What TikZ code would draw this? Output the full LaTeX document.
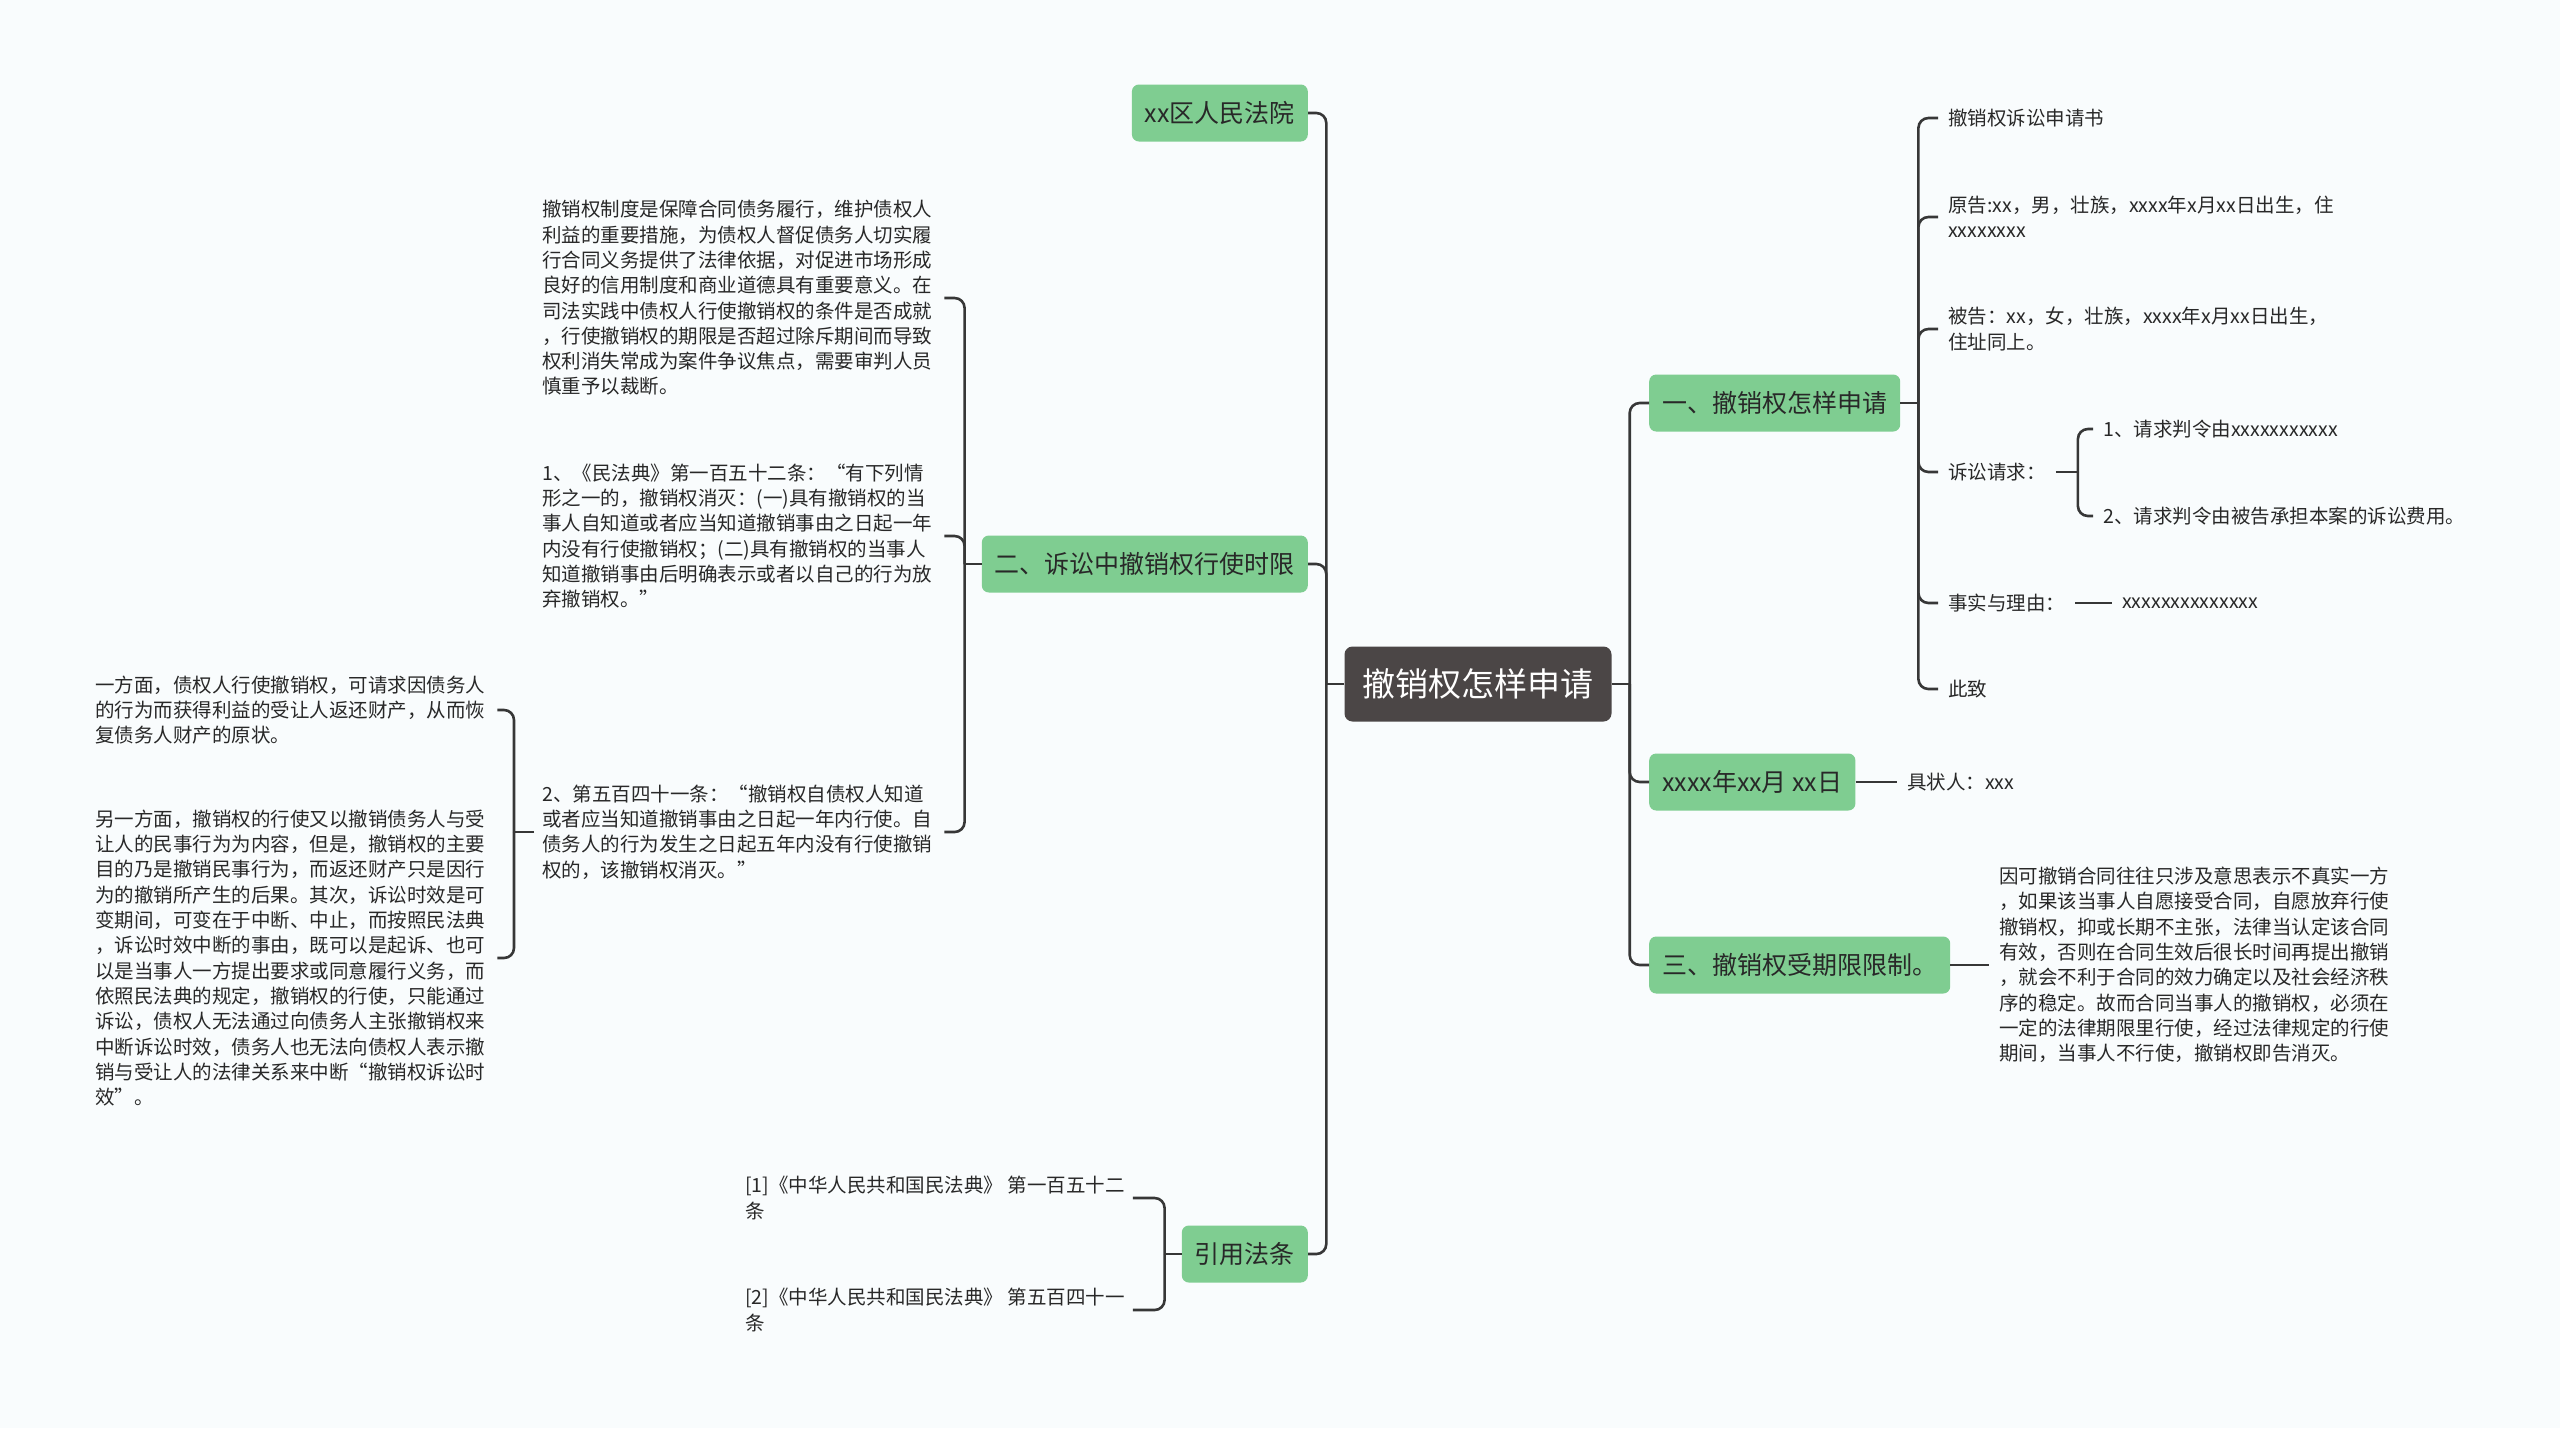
\documentclass[tikz,border=0pt]{standalone}
\usepackage{fontspec}
\setmainfont{Noto Sans CJK SC}
\definecolor{paperbg}{RGB}{249,252,253}
\definecolor{rootgray}{RGB}{75,70,70}
\definecolor{topicgreen}{RGB}{127,205,145}
\definecolor{inkdark}{RGB}{40,40,40}
\definecolor{wiregray}{RGB}{55,55,55}
\tikzset{
  root/.style={fill=rootgray,text=white,rounded corners=8pt,
               font=\fontsize{33}{40}\selectfont,minimum height=75pt,inner xsep=18pt},
  topic/.style={fill=topicgreen,text=inkdark,rounded corners=7pt,
                font=\fontsize{25}{30}\selectfont,minimum height=57pt,inner xsep=13pt},
  leaf/.style={text=inkdark,font=\fontsize{19.5}{25.3}\selectfont,
               inner xsep=10pt,inner ysep=2pt,align=left},
  para/.style={leaf,text width=394pt,inner xsep=8pt},
  conn/.style={draw=wiregray,line width=2.6pt,rounded corners=10pt},
}

\begin{document}
\begin{tikzpicture}[x=1pt,y=-1pt]
  \fill[paperbg] (0,0) rectangle (2560,1428);
  \useasboundingbox (0,0) rectangle (2560,1428);
  % centre and main topics
  \node[root] (root) at (1478,684){撤销权怎样申请};
  \node[topic,anchor=east] (court) at (1308,113){xx区人民法院};
  \node[topic,anchor=east] (timelimit) at (1308,564){二、诉讼中撤销权行使时限};
  \node[topic,anchor=east] (citing) at (1308,1254){引用法条};
  \node[topic,anchor=west] (apply) at (1649,403){一、撤销权怎样申请};
  \node[topic,anchor=west] (datebox) at (1649,782){xxxx年xx月 xx日};
  \node[topic,anchor=west] (period) at (1649,965){三、撤销权受期限限制。};
  % right side leaves
  \node[leaf,anchor=west] (docname) at (1938,118){撤销权诉讼申请书};
  \node[leaf,anchor=west] (plaintiff) at (1938,217){原告:xx，男，壮族，xxxx年x月xx日出生，住\\xxxxxxxx};
  \node[leaf,anchor=west] (defendant) at (1938,329){被告：xx，女，壮族，xxxx年x月xx日出生，\\住址同上。};
  \node[leaf,anchor=west] (claims) at (1938,472){诉讼请求：};
  \node[leaf,anchor=west] (claimA) at (2093,429){1、请求判令由xxxxxxxxxxx};
  \node[leaf,anchor=west] (claimB) at (2093,516){2、请求判令由被告承担本案的诉讼费用。};
  \node[leaf,anchor=west] (facts) at (1938,603){事实与理由：};
  \node[leaf,anchor=west] (factsx) at (2112,603){xxxxxxxxxxxxxx};
  \node[leaf,anchor=west] (regards) at (1938,689){此致};
  \node[leaf,anchor=west] (signer) at (1897,782){具状人：xxx};
  \node[para,inner xsep=10pt,anchor=west] (periodtxt) at (1989,965){因可撤销合同往往只涉及意思表示不真实一方\\，如果该当事人自愿接受合同，自愿放弃行使\\撤销权，抑或长期不主张，法律当认定该合同\\有效，否则在合同生效后很长时间再提出撤销\\，就会不利于合同的效力确定以及社会经济秩\\序的稳定。故而合同当事人的撤销权，必须在\\一定的法律期限里行使，经过法律规定的行使\\期间，当事人不行使，撤销权即告消灭。};
  % left side leaves
  \node[para,anchor=west] (intro) at (534,298){撤销权制度是保障合同债务履行，维护债权人\\利益的重要措施，为债权人督促债务人切实履\\行合同义务提供了法律依据，对促进市场形成\\良好的信用制度和商业道德具有重要意义。在\\司法实践中债权人行使撤销权的条件是否成就\\，行使撤销权的期限是否超过除斥期间而导致\\权利消失常成为案件争议焦点，需要审判人员\\慎重予以裁断。};
  \node[para,anchor=west] (art152) at (534,536){1、《民法典》第一百五十二条：“有下列情\\形之一的，撤销权消灭：(一)具有撤销权的当\\事人自知道或者应当知道撤销事由之日起一年\\内没有行使撤销权；(二)具有撤销权的当事人\\知道撤销事由后明确表示或者以自己的行为放\\弃撤销权。”};
  \node[para,anchor=west] (art541) at (534,832){2、第五百四十一条：“撤销权自债权人知道\\或者应当知道撤销事由之日起一年内行使。自\\债务人的行为发生之日起五年内没有行使撤销\\权的，该撤销权消灭。”};
  \node[para,anchor=west] (effectA) at (87,710){一方面，债权人行使撤销权，可请求因债务人\\的行为而获得利益的受让人返还财产，从而恢\\复债务人财产的原状。};
  \node[para,anchor=west] (effectB) at (87,958){另一方面，撤销权的行使又以撤销债务人与受\\让人的民事行为为内容，但是，撤销权的主要\\目的乃是撤销民事行为，而返还财产只是因行\\为的撤销所产生的后果。其次，诉讼时效是可\\变期间，可变在于中断、中止，而按照民法典\\，诉讼时效中断的事由，既可以是起诉、也可\\以是当事人一方提出要求或同意履行义务，而\\依照民法典的规定，撤销权的行使，只能通过\\诉讼，债权人无法通过向债务人主张撤销权来\\中断诉讼时效，债务人也无法向债权人表示撤\\销与受让人的法律关系来中断“撤销权诉讼时\\效”。};
  \node[leaf,inner xsep=8pt,anchor=west] (cite152) at (737,1198){[1]《中华人民共和国民法典》 第一百五十二\\条};
  \node[leaf,inner xsep=8pt,anchor=west] (cite541) at (737,1310){[2]《中华人民共和国民法典》 第五百四十一\\条};
  % connectors, left
  \draw[conn] (root.west) -- ++(-18,0) coordinate (lhub);
  \draw[conn] (lhub) |- (court.east);
  \draw[conn] (lhub) |- (timelimit.east);
  \draw[conn] (lhub) |- (citing.east);
  \draw[conn] (timelimit.west) -- ++(-17,0) coordinate (tlhub);
  \draw[conn] (tlhub) |- (intro.east);
  \draw[conn] (tlhub) |- (art152.east);
  \draw[conn] (tlhub) |- (art541.east);
  \draw[conn] (art541.west) -- ++(-20,0) coordinate (arthub);
  \draw[conn] (arthub) |- (effectA.east);
  \draw[conn] (arthub) |- (effectB.east);
  \draw[conn] (citing.west) -- ++(-17,0) coordinate (cthub);
  \draw[conn] (cthub) |- (cite152.east);
  \draw[conn] (cthub) |- (cite541.east);
  % connectors, right
  \draw[conn] (root.east) -- ++(18,0) coordinate (rhub);
  \draw[conn] (rhub) |- (apply.west);
  \draw[conn] (rhub) |- (datebox.west);
  \draw[conn] (rhub) |- (period.west);
  \draw[conn] (apply.east) -- ++(18,0) coordinate (aphub);
  \foreach \leafname in {docname,plaintiff,defendant,claims,facts,regards}
    \draw[conn] (aphub) |- (\leafname.west);
  \draw[conn] (claims.east) -- ++(22,0) coordinate (clhub);
  \draw[conn] (clhub) |- (claimA.west);
  \draw[conn] (clhub) |- (claimB.west);
  \draw[conn] (facts.east) -- (factsx.west);
  \draw[conn] (datebox.east) -- (signer.west);
  \draw[conn] (period.east) -- (periodtxt.west);
\end{tikzpicture}
\end{document}
